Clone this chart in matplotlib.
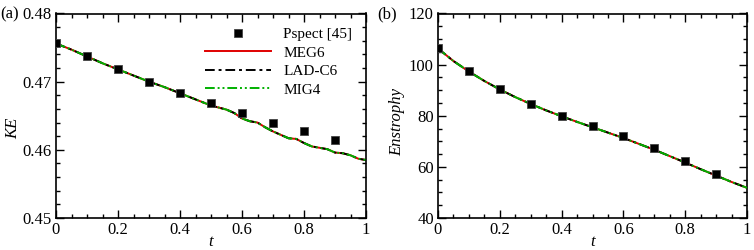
import numpy as np
import matplotlib
matplotlib.use("Agg")
import matplotlib.pyplot as plt
from matplotlib.ticker import MultipleLocator

plt.rcParams['font.family'] = ['Liberation Serif', 'DejaVu Serif']
plt.rcParams['font.size'] = 12

# reference data (Pspect [45])
t_ref = [0.0, 0.1, 0.2, 0.3, 0.4, 0.5, 0.6, 0.7, 0.8, 0.9]
ke_ref = [0.4757, 0.4737, 0.4718, 0.4700, 0.4683, 0.4668, 0.4654, 0.4640, 0.4627, 0.4615]
ens_ref = [106.4, 97.4, 90.3, 84.7, 79.9, 75.8, 71.9, 67.3, 62.4, 57.3]

# simulation curves (MEG6, LAD-C6, MIG4 lie on top of each other)
t_ke = [0.0, 0.05, 0.1, 0.15, 0.2, 0.25, 0.3, 0.35, 0.4, 0.45, 0.5, 0.525, 0.55, 0.575,
        0.6, 0.625, 0.65, 0.675, 0.7, 0.725, 0.75, 0.775, 0.8, 0.825, 0.85, 0.875,
        0.9, 0.925, 0.95, 0.975, 1.0]
ke_meg6 = [0.4756, 0.4747, 0.4737, 0.4727, 0.4718, 0.4709, 0.4700, 0.4692, 0.4683, 0.4674,
           0.4665, 0.4662, 0.4659, 0.4654, 0.4646, 0.4642, 0.4640, 0.4633, 0.4627, 0.4622,
           0.4617, 0.4616, 0.4610, 0.4605, 0.4603, 0.4601, 0.4596, 0.4595, 0.4592, 0.4587,
           0.4585]
ke_lad = ke_meg6
ke_mig4 = ke_meg6

t_ens = [0.0, 0.05, 0.1, 0.15, 0.2, 0.25, 0.3, 0.35, 0.4, 0.45, 0.5,
         0.55, 0.6, 0.65, 0.7, 0.75, 0.8, 0.85, 0.9, 0.95, 1.0]
ens_meg6 = [106.3, 101.4, 97.3, 93.6, 90.3, 87.3, 84.6, 82.1, 79.8, 77.6, 75.5,
            73.4, 71.3, 69.0, 66.7, 64.2, 61.7, 59.1, 56.6, 54.1, 51.8]
ens_lad = ens_meg6
ens_mig4 = ens_meg6

fig = plt.figure(figsize=(7.54, 2.5), dpi=100)
ax1 = fig.add_axes([56/754, 0.128, 310/754, 0.818])
ax2 = fig.add_axes([438/754, 0.128, 309/754, 0.818])


def draw(ax, t, meg, lad, mig, tr, yr):
    ax.plot(t, meg, color='#e00000', lw=1.4, label='MEG6', zorder=2)
    ax.plot(t, lad, color='black', lw=1.4, dashes=(5, 2, 1.5, 2), label='LAD-C6', zorder=3)
    ax.plot(t, mig, color='#00b000', lw=1.4, dashes=(5, 1.5, 1, 1.5, 1, 1.5), label='MIG4', zorder=4)
    ax.plot(tr, yr, 's', color='black', ms=6, mec='#444444', mew=0.6,
            label='Pspect [45]', zorder=5)
    ax.set_xlim(0, 1)
    ax.xaxis.set_minor_locator(MultipleLocator(0.05))
    ax.tick_params(which='both', direction='in', top=True, right=True, width=1)
    ax.tick_params(which='major', length=6, pad=3)
    ax.tick_params(which='minor', length=3)
    ax.set_xticks([0, 0.2, 0.4, 0.6, 0.8, 1.0])
    ax.set_xticklabels(['0', '0.2', '0.4', '0.6', '0.8', '1'])
    for s in ax.spines.values():
        s.set_linewidth(1.2)
    ax.set_xlabel('t', style='italic', labelpad=-3)


draw(ax1, t_ke, ke_meg6, ke_lad, ke_mig4, t_ref, ke_ref)
ax1.set_ylim(0.45, 0.48)
ax1.yaxis.set_major_locator(MultipleLocator(0.01))
ax1.yaxis.set_minor_locator(MultipleLocator(0.002))
ax1.set_ylabel('KE', style='italic')
ax1.yaxis.set_label_coords(-0.113, 0.436)
h, l = ax1.get_legend_handles_labels()
order = [3, 0, 1, 2]
ax1.legend([h[i] for i in order], [l[i] for i in order], loc='upper right',
           bbox_to_anchor=(1.0, 1.0), frameon=False, handlelength=4.3,
           handletextpad=0.8, labelspacing=0.32, fontsize=11, borderaxespad=0.5)

draw(ax2, t_ens, ens_meg6, ens_lad, ens_mig4, t_ref, ens_ref)
ax2.set_ylim(40, 120)
ax2.yaxis.set_major_locator(MultipleLocator(20))
ax2.yaxis.set_minor_locator(MultipleLocator(5))
ax2.set_ylabel('Enstrophy', style='italic')
ax2.yaxis.set_label_coords(-0.107, 0.47)

fig.text(0.0, 0.975, '(a)', fontsize=12, va='top', ha='left')
fig.text(377/754, 0.975, '(b)', fontsize=12, va='top', ha='left')

fig.savefig('out.png', dpi=100)
